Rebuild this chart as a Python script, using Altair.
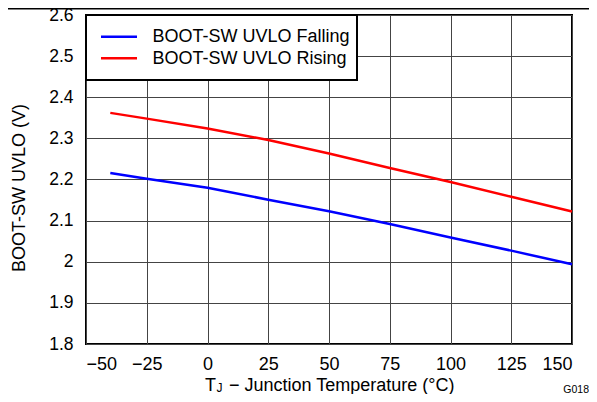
import altair as alt
import pandas as pd

temps = [-40, -25, 0, 25, 50, 75, 100, 125, 150]
falling = [2.216, 2.202, 2.180, 2.151, 2.123, 2.092, 2.059, 2.027, 1.994]
rising = [2.362, 2.348, 2.324, 2.296, 2.263, 2.228, 2.194, 2.158, 2.122]
series = ["BOOT-SW UVLO Falling", "BOOT-SW UVLO Rising"]
colors = ["#0000FF", "#FF0000"]
x_ticks = [-50, -25, 0, 25, 50, 75, 100, 125, 150]
y_ticks = [1.8, 1.9, 2.0, 2.1, 2.2, 2.3, 2.4, 2.5, 2.6]
y_title = "BOOT-SW UVLO (V)"
x_title_main = "T"
x_title_sub = "J"
x_title_rest = "\u2212 Junction Temperature (\u00b0C)"
figure_id = "G018"

rows = []
for t, v in zip(temps, falling):
    rows.append({"T": t, "V": v, "s": series[0]})
for t, v in zip(temps, rising):
    rows.append({"T": t, "V": v, "s": series[1]})
df = pd.DataFrame(rows)

FONT = "Liberation Sans"
W, H = 486, 329
one = pd.DataFrame({"a": [0]})

lines = alt.Chart(df).mark_line(strokeWidth=2.5).encode(
    x=alt.X("T:Q", scale=alt.Scale(domain=[-50, 150], nice=False, zero=False),
            axis=alt.Axis(values=x_ticks, title=None, labelPadding=11, labelFontSize=18)),
    y=alt.Y("V:Q", scale=alt.Scale(domain=[1.8, 2.6], nice=False, zero=False),
            axis=alt.Axis(values=y_ticks, title=None, labelPadding=13, labelFontSize=17.5,
                          labelExpr="format(datum.value, '.2~r')")),
    color=alt.Color("s:N", scale=alt.Scale(domain=series, range=colors), legend=None),
)

legend_box = alt.Chart(one).mark_rect(fill="white", stroke="black", strokeWidth=2).encode(
    x=alt.value(0), x2=alt.value(271), y=alt.value(0), y2=alt.value(65)
)

legend_layers = [legend_box]
row_y = [21.7, 43.3]
for i, name in enumerate(series):
    d = pd.DataFrame({"label": [name]})
    legend_layers.append(
        alt.Chart(d).mark_rule(color=colors[i], strokeWidth=2.5).encode(
            x=alt.value(15), x2=alt.value(51), y=alt.value(row_y[i])
        )
    )
    legend_layers.append(
        alt.Chart(d).mark_text(align="left", baseline="middle", font=FONT, fontSize=18, color="black").encode(
            text="label:N", x=alt.value(66.5), y=alt.value(row_y[i] + 0.5)
        )
    )

ytitle = alt.Chart(pd.DataFrame({"t": [y_title]})).mark_text(
    angle=270, align="center", baseline="middle", font=FONT, fontSize=18, color="black"
).encode(text="t:N", x=alt.value(-66), y=alt.value(173))

xt1 = alt.Chart(pd.DataFrame({"t": [x_title_main]})).mark_text(
    align="left", baseline="alphabetic", font=FONT, fontSize=18, color="black"
).encode(text="t:N", x=alt.value(119), y=alt.value(375.5))
xt2 = alt.Chart(pd.DataFrame({"t": [x_title_sub]})).mark_text(
    align="left", baseline="alphabetic", font=FONT, fontSize=12, color="black"
).encode(text="t:N", x=alt.value(130.5), y=alt.value(377))
xt3 = alt.Chart(pd.DataFrame({"t": [x_title_rest]})).mark_text(
    align="left", baseline="alphabetic", font=FONT, fontSize=18, color="black"
).encode(text="t:N", x=alt.value(143), y=alt.value(375.5))

gid = alt.Chart(pd.DataFrame({"t": [figure_id]})).mark_text(
    align="right", baseline="alphabetic", font=FONT, fontSize=10.5, color="black"
).encode(text="t:N", x=alt.value(503), y=alt.value(377.5))

top_rule = alt.Chart(one).mark_rule(color="black", strokeWidth=1.5).encode(
    x=alt.value(-80), x2=alt.value(505), y=alt.value(-6.2)
)

chart = alt.layer(lines, *legend_layers, ytitle, xt1, xt2, xt3, gid, top_rule).properties(
    width=W, height=H,
    autosize=alt.AutoSizeParams(type="none"),
    padding={"left": 78, "top": 7, "right": 17, "bottom": 50},
    background="white",
).configure_view(
    stroke="black", strokeWidth=2
).configure_axis(
    grid=True, gridColor="#444444", gridWidth=1, gridOpacity=1,
    domain=False, ticks=False, tickSize=0,
    labelFont=FONT, labelColor="black",
)

chart.save("out.html", embed_options={"renderer": "svg", "actions": False})
